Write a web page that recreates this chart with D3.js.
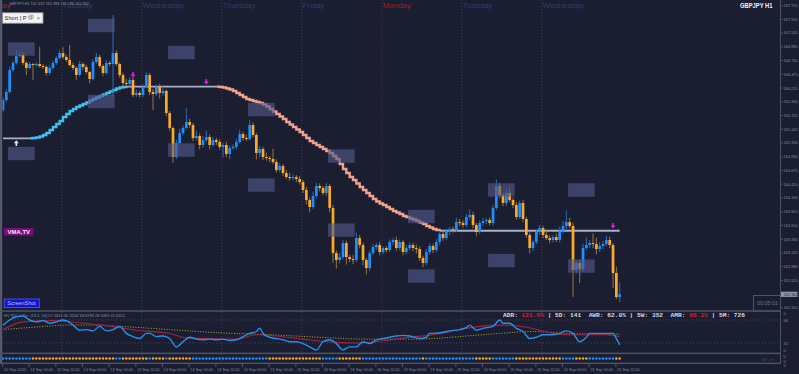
<!DOCTYPE html>
<html>
<head>
<meta charset="utf-8">
<script src="https://cdn.jsdelivr.net/npm/d3@7"></script>
<style>
  html, body { margin: 0; padding: 0; background: #1b1e30; }
  svg { display: block; font-family: "Liberation Sans", Arial, sans-serif; }
</style>
</head>
<body>
<svg id="chart" width="799" height="374"></svg>
<script>
// GBPJPY H1, 12 Sep 2022 06:00 -> 21 Sep 2022 23:00, one entry per hourly bar
const firstOpen = 165.806;
const closes = [
  165.993,166.143,166.554,166.685,166.815,166.834,166.685,166.591,166.666,166.647,
  166.666,166.628,166.610,166.498,166.591,166.685,166.778,166.871,166.797,166.741,
  166.647,166.591,166.460,166.666,166.610,166.516,166.385,166.703,166.797,166.628,
  166.498,166.685,166.666,166.871,166.666,166.460,166.311,166.292,166.367,166.086,
  166.124,166.086,166.236,166.460,166.143,166.105,166.236,166.124,166.161,165.750,
  165.470,164.928,165.189,165.376,165.470,165.582,165.526,165.283,165.320,165.152,
  165.245,165.301,165.152,165.245,165.208,165.115,165.152,164.984,165.096,165.115,
  165.208,165.357,165.283,165.264,165.526,165.339,165.002,165.077,164.928,164.909,
  164.890,164.834,164.685,164.759,164.629,164.554,164.535,164.554,164.517,164.460,
  164.311,164.124,163.993,164.199,164.386,164.348,164.255,164.386,163.974,163.133,
  163.003,163.059,163.320,163.059,163.021,163.003,163.414,163.283,163.003,162.853,
  163.133,163.245,163.283,163.152,163.227,163.190,163.339,163.377,163.227,163.339,
  163.152,163.227,163.283,163.227,163.208,163.040,162.947,163.152,163.264,163.190,
  163.339,163.489,163.414,163.526,163.582,163.563,163.713,163.694,163.657,163.806,
  163.844,163.657,163.526,163.694,163.731,163.750,163.694,163.974,164.386,164.217,
  164.068,164.255,164.124,164.030,163.806,164.068,163.769,163.470,163.227,163.339,
  163.526,163.601,163.470,163.414,163.377,163.432,163.377,163.545,163.638,163.713,
  163.638,162.816,162.947,162.834,163.227,163.283,163.320,163.301,163.208,163.264,
  163.301,163.377,163.283,162.760,162.311,162.362
];
// wick lengths beyond the body, in pips (0.01)
const wickUp = [
  4,5,6,4,11,6,5,3,4,2, 3,32,4,3,5,4,3,6,11,4, 28,4,3,6,3,4,2,5,8,4, 3,6,4,71,5,3,4,8,6,5,
  6,4,5,5,4,6,4,6,8,3, 4,3,6,8,5,26,6,4,10,5, 8,12,5,6,4,5,4,6,4,5, 6,8,4,6,10,5,4,6,4,8,
  4,19,5,6,4,6,8,5,4,6, 4,6,5,8,6,5,4,6,4,6, 5,8,6,5,4,8,10,6,5,4, 5,6,4,6,3,4,5,4,6,5,
  4,6,5,4,6,5,4,6,5,4, 6,4,5,6,4,5,8,6,5,6, 10,6,4,5,6,4,5,6,12,6, 5,8,10,4,6,5,6,4,5,4,
  5,6,4,8,5,4,6,8,10,22, 8,6,5,6,8,14,6,18,12,8, 6,8,6,4,12,22
];
const wickDown = [
  5,4,3,4,3,3,4,13,3,28, 4,3,3,5,4,3,4,3,4,3, 3,4,9,3,5,4,8,3,3,4, 6,3,4,62,4,5,6,4,5,4,
  4,5,4,3,6,30,4,10,5,6, 5,11,4,3,4,3,5,6,4,8, 5,4,8,3,6,5,20,6,10,4, 4,3,5,4,3,4,12,8,6,5,
  6,4,5,4,6,4,5,4,6,5, 6,8,10,4,5,6,4,5,8,18, 16,6,4,14,6,8,4,6,10,12, 6,4,5,6,4,5,4,6,5,4,
  6,4,5,6,8,5,8,4,5,6, 4,6,5,4,6,5,4,6,5,4, 5,6,8,4,5,6,4,5,4,6, 6,5,4,6,5,4,6,5,10,6,
  4,5,6,4,6,5,4,5,4,6, 4,50,6,26,5,4,6,8,10,6, 5,4,6,28,4,9
];
// VMA (variable moving average), one value per bar
const vma = [
  165.277,165.277,165.277,165.277,165.277,165.277,165.277,165.277,165.277,
  165.283,165.292,165.311,165.339,165.376,165.432,165.488,165.544,165.601,165.675,
  165.731,165.787,165.825,165.862,165.890,165.918,165.946,165.984,166.012,166.040,
  166.068,166.096,166.124,166.152,166.180,166.208,166.227,166.236,
  166.242,166.242,166.242,166.242,166.242,166.242,166.242,166.242,166.242,166.242,
  166.242,166.242,166.242,166.242,166.242,166.242,166.242,166.242,166.242,166.242,
  166.242,166.242,166.242,166.242,166.242,166.242,166.242,166.242,
  166.236,166.227,166.208,166.189,166.161,166.124,166.086,166.049,166.012,165.993,
  165.974,165.956,165.937,165.909,165.871,165.825,165.778,165.731,165.685,165.638,
  165.582,165.535,165.488,165.442,165.395,165.339,165.283,165.227,165.189,165.152,
  165.115,165.077,165.040,165.002,164.946,164.890,164.797,164.703,164.629,164.554,
  164.498,164.432,164.367,164.311,164.255,164.199,164.143,164.096,164.059,164.031,
  163.993,163.956,163.918,163.890,163.862,163.825,163.806,163.778,163.759,163.731,
  163.703,163.675,163.638,163.610,163.582,163.563,
  163.550,163.550,163.550,163.550,163.550,163.550,163.550,163.550,163.550,163.550,
  163.550,163.550,163.550,163.550,163.550,163.550,163.550,163.550,163.550,163.550,
  163.550,163.550,163.550,163.550,163.550,163.550,163.550,163.550,163.550,163.550,
  163.550,163.550,163.550,163.550,163.550,163.550,163.550,163.550,163.550,163.550,
  163.550,163.550,163.550,163.550,163.550,163.550,163.550,163.550,163.550,163.550,
  163.550,163.550,163.550,163.550,163.550
];

// days: first bar of each trading day (bar 0 = Mon 12 Sep 06:00)
const dayStartBars = [-6, 18, 42, 66, 90, 114, 138, 162];
const dayNames = ["Monday", "Tuesday", "Wednesday", "Thursday", "Friday", "Monday", "Tuesday", "Wednesday"];
// daily level boxes (centre prices)
const boxStartBars = [2, 26, 50, 74, 98, 122, 146, 170];
const boxHigh = [166.946, 167.385, 166.881, 165.815, 164.946, 163.816, 164.311, 164.311];
const boxLow = [164.993, 165.965, 165.058, 164.404, 163.563, 162.703, 162.993, 162.890];

// signals
const sellBars = [39, 61, 183];
const sellPrices = [166.46, 166.33, 163.64];
const buyBars = [4];
const buyPrices = [165.19];

// TDI readings
const tdiBlueBars = [0,2,4,6,8,10,12,14,16,18,19,21,23,25,27,29,31,33,35,37,39,41,43,44,46,48,50,52,54,56,58,60,62,64,66,68,70,72,74,76,77,78,80,82,84,86,88,90,92,94,96,98,100,102,104,106,108,110,112,114,116,118,120,122,125,127,128,131,134,137,139,140,142,144,147,149,150,152,154,156,158,160,162,165,167,169,171,173,175,176,178,181,183,184,185];
const tdiBlue = [60,68,73,74,68,65,67,63,65,68,67,60,52,53,51,58,51,53,58,47,42,39,47,47,42,43,39,26,34,41,38,37,38,37,38,36,37,42,47,50,55,47,41,39,37,34,34,31,26,21,34,37,31,21,26,26,34,31,37,39,41,43,44,43,39,41,47,48,51,53,56,60,52,55,58,68,63,63,55,50,39,41,45,45,47,51,47,34,41,47,47,47,47,39,29];
const tdiRedBars = [0,6,15,22,30,40,50,55,62,70,76,82,90,100,105,115,120,129,139,143,149,154,161,165,169,175,181,185];
const tdiRed = [53,65,67,64,60,52,47,40,39,38,45,43,38,33,32,36,40,45,55,58,60,59,52,47,45,45,45,42];
const tdiYellowBars = [0,10,20,25,35,50,65,80,95,110,120,129,139,149,159,169,179,185];
const tdiYellow = [53,57,60,60,58,53,48,45,41,38,38,39,43,47,50,47,46,46];
const tdiLevels = [68, 32];

// trend dots: bars where the colour flips (starts blue, then alternates)
const dotRunStarts = [0,9,34,36,44,45,49,50,57,80,96,101,108,126,127,142,147,154,168,172,176,184];

// axes
const priceTicks = [167.755,167.500,167.245,166.985,166.730,166.475,166.215,165.960,165.705,165.445,165.190,164.930,164.675,164.420,164.160,163.905,163.650,163.390,163.135,162.880,162.620,162.110];
const lastPrice = 162.362;
const timeBars = [0,8,16,24,32,40,48,56,64,72,80,88,96,104,112,120,128,136,144,152,160,168,176,184];
const timeLabels = ["12 Sep 2022","12 Sep 14:00","12 Sep 22:00","13 Sep 06:00","13 Sep 14:00","13 Sep 22:00","14 Sep 06:00","14 Sep 14:00","14 Sep 22:00","15 Sep 06:00","15 Sep 14:00","15 Sep 22:00","16 Sep 06:00","16 Sep 14:00","16 Sep 22:00","19 Sep 06:00","19 Sep 14:00","19 Sep 22:00","20 Sep 06:00","20 Sep 14:00","20 Sep 22:00","21 Sep 06:00","21 Sep 14:00","21 Sep 22:00"];
const adrParts = ["ADR: ", "121.5%", " | 5D: 141  AWR: ", "62.0%", " | 5W: 352  AMR: ", "95.3%", " | 5M: 726"];
const adrRed = [false, true, false, false, false, true, false];

(function () {
  "use strict";

  const svg = d3.select("#chart");
  const BG = "#1b1e30";
  const FRAME = "#4d5166";
  const AXIS_TXT = "#878ba0";

  const x = d3.scaleLinear().domain([0, 185]).range([3, 619.7]);
  const y = d3.scaleLinear().domain([167.755, 162.110]).range([5.7, 307.8]);
  const yT = d3.scaleLinear().domain([68, 32]).range([320, 343]);
  const barW = x(1) - x(0);

  const bars = closes.map((c, i) => {
    const o = i === 0 ? firstOpen : closes[i - 1];
    return {
      i, o, c,
      h: Math.max(o, c) + wickUp[i] / 100,
      l: Math.min(o, c) - wickDown[i] / 100,
      up: c >= o
    };
  });

  svg.append("rect").attr("width", 799).attr("height", 374).attr("fill", BG);

  const defs = svg.append("defs");
  defs.append("clipPath").attr("id", "clipMain")
    .append("rect").attr("x", 2.5).attr("y", 0).attr("width", 778).attr("height", 310.5);
  defs.append("clipPath").attr("id", "clipTdi")
    .append("rect").attr("x", 2.5).attr("y", 312).attr("width", 778).attr("height", 41);
  defs.append("clipPath").attr("id", "clipAll")
    .append("rect").attr("x", 0).attr("y", 0).attr("width", 780).attr("height", 363);

  // day separators
  const sepG = svg.append("g").attr("clip-path", "url(#clipAll)");
  sepG.selectAll("line")
    .data(dayStartBars.map((b, k) => ({ b, k })).filter((d) => d.b > 0))
    .join("line")
    .attr("x1", (d) => x(d.b) - barW / 2 + 0.5)
    .attr("x2", (d) => x(d.b) - barW / 2 + 0.5)
    .attr("y1", 0).attr("y2", 363)
    .attr("stroke", (d) => (dayNames[d.k] === "Monday" ? "#6e2230" : "#3b3f59"))
    .attr("stroke-width", 1)
    .attr("stroke-dasharray", "1,2");

  // day names along the top
  sepG.selectAll("text.day")
    .data(dayStartBars.map((b, k) => ({ b, name: dayNames[k] })))
    .join("text")
    .attr("class", "day")
    .attr("x", (d) => x(d.b) - barW / 2 + 1.5)
    .attr("y", 8.3)
    .attr("font-size", 7.8)
    .attr("fill", (d) => (d.name === "Monday" ? "#a51c22" : "#323d6c"))
    .text((d) => d.name);

  const gMain = svg.append("g").attr("clip-path", "url(#clipMain)");

  // VMA line, split into runs of rising / falling / flat
  const state = (i) => {
    const d = vma[i + 1] - vma[i];
    return d > 1e-6 ? "up" : d < -1e-6 ? "down" : "flat";
  };
  const runs = [];
  for (let i = 0; i < vma.length - 1; i++) {
    const s = state(i);
    const last = runs[runs.length - 1];
    if (last && last.s === s) last.to = i + 1;
    else runs.push({ s, from: i, to: i + 1 });
  }
  const vmaColor = { up: "#3fc0ee", down: "#f2a28c", flat: "#a9b1c6" };
  const stepLine = d3.line().x((p) => x(p[0])).y((p) => y(p[1])).curve(d3.curveStepAfter);
  const plainLine = d3.line().x((p) => x(p[0])).y((p) => y(p[1]));
  gMain.append("g").selectAll("path")
    .data(runs)
    .join("path")
    .attr("d", (r) => {
      const pts = d3.range(r.from, r.to + 1).map((i) => [i, vma[i]]);
      return r.s === "flat" ? plainLine(pts) : stepLine(pts);
    })
    .attr("fill", "none")
    .attr("stroke", (r) => vmaColor[r.s])
    .attr("stroke-width", (r) => (r.s === "flat" ? 1.8 : 2.4))
    .attr("stroke-linejoin", "miter");

  // candles
  gMain.append("g").selectAll("line")
    .data(bars)
    .join("line")
    .attr("x1", (d) => x(d.i)).attr("x2", (d) => x(d.i))
    .attr("y1", (d) => y(d.h)).attr("y2", (d) => y(d.l))
    .attr("stroke", (d) => (d.up ? "#2a6db6" : "#9c7733"))
    .attr("stroke-width", 1);
  gMain.append("g").selectAll("rect")
    .data(bars)
    .join("rect")
    .attr("x", (d) => x(d.i) - 1.35)
    .attr("width", 2.7)
    .attr("y", (d) => y(Math.max(d.o, d.c)))
    .attr("height", (d) => Math.max(1, Math.abs(y(d.o) - y(d.c))))
    .attr("fill", (d) => (d.up ? "#1e8fff" : "#fcaa2b"));

  // daily level boxes
  const boxes = [];
  boxStartBars.forEach((b, k) => {
    boxes.push({ b, p: boxHigh[k] });
    boxes.push({ b, p: boxLow[k] });
  });
  gMain.append("g").selectAll("rect")
    .data(boxes)
    .join("rect")
    .attr("x", (d) => x(d.b) - barW / 2)
    .attr("width", barW * 8)
    .attr("y", (d) => y(d.p) - 6.7)
    .attr("height", 13.4)
    .attr("fill", "#53588b")
    .attr("opacity", 0.62);

  // signal arrows
  const downArrow = (cx, cy) =>
    `M${cx - 0.8},${cy - 3} h1.6 v2.6 h1.7 l-2.5,3 l-2.5,-3 h1.7 z`;
  const upArrow = (cx, cy) =>
    `M${cx - 0.8},${cy + 3} h1.6 v-2.6 h1.7 l-2.5,-3 l-2.5,3 h1.7 z`;
  gMain.append("g").selectAll("path")
    .data(sellBars.map((b, k) => ({ b, p: sellPrices[k] })))
    .join("path")
    .attr("d", (d) => downArrow(x(d.b), y(d.p)))
    .attr("fill", "#e21fe6");
  gMain.append("g").selectAll("path")
    .data(buyBars.map((b, k) => ({ b, p: buyPrices[k] })))
    .join("path")
    .attr("d", (d) => upArrow(x(d.b), y(d.p)))
    .attr("fill", "#dff3ff");

  // top-left symbol line
  svg.append("text")
    .attr("x", 9).attr("y", 4.6)
    .attr("font-size", 3.9).attr("fill", "#8d91a6")
    .attr("textLength", 80).attr("lengthAdjust", "spacingAndGlyphs")
    .text("GBPJPY,H1  162.332 162.388 162.286 162.362");

  svg.append("text")
    .attr("x", 740).attr("y", 8.4)
    .attr("font-size", 7.6).attr("font-weight", "bold").attr("fill", "#f2f2f2")
    .attr("textLength", 32.5).attr("lengthAdjust", "spacingAndGlyphs")
    .text("GBPJPY H1");

  // "Short | P" panel
  const sp = svg.append("g");
  sp.append("rect").attr("x", 2.5).attr("y", 12.8).attr("width", 40.5).attr("height", 10.4)
    .attr("fill", "#f3f3f3").attr("stroke", "#9a9ca4").attr("stroke-width", 0.8);
  sp.append("text").attr("x", 4.6).attr("y", 20.3).attr("font-size", 5.4).attr("fill", "#2a2a2a")
    .attr("textLength", 22).attr("lengthAdjust", "spacingAndGlyphs").text("Short | P");
  sp.append("rect").attr("x", 28.8).attr("y", 16.2).attr("width", 3).attr("height", 3)
    .attr("fill", "none").attr("stroke", "#8a8a8a").attr("stroke-width", 0.6);
  sp.append("rect").attr("x", 30).attr("y", 15.2).attr("width", 3).attr("height", 3)
    .attr("fill", "none").attr("stroke", "#8a8a8a").attr("stroke-width", 0.6);
  sp.append("text").attr("x", 36.8).attr("y", 20).attr("font-size", 5.4).attr("fill", "#777").text("×");

  // VMA,TV tag
  svg.append("rect").attr("x", 4).attr("y", 228).attr("width", 29.5).attr("height", 7.6).attr("fill", "#7a0c7d");
  svg.append("text").attr("x", 7.5).attr("y", 234.1).attr("font-size", 5.6).attr("font-weight", "bold")
    .attr("fill", "#f4e9f6").attr("textLength", 22.5).attr("lengthAdjust", "spacingAndGlyphs").text("VMA,TV");

  // ScreenShot button
  svg.append("rect").attr("x", 4.3).attr("y", 299).attr("width", 35).attr("height", 8.6)
    .attr("fill", "#1212cf").attr("stroke", "#4c5cff").attr("stroke-width", 0.8);
  svg.append("text").attr("x", 7.3).attr("y", 305.4).attr("font-size", 5).attr("fill", "#b9c4ff")
    .attr("textLength", 28.5).attr("lengthAdjust", "spacingAndGlyphs").text("ScreenShot");

  // countdown box
  svg.append("rect").attr("x", 753.5).attr("y", 295.5).attr("width", 27).attr("height", 15.5)
    .attr("fill", BG).attr("stroke", "#50546a").attr("stroke-width", 1);
  svg.append("text").attr("x", 757).attr("y", 305).attr("font-size", 5).attr("fill", "#6d7288")
    .attr("textLength", 21).attr("lengthAdjust", "spacingAndGlyphs").text("00:05:01");

  // ---------------- TDI panel ----------------
  svg.append("text").attr("x", 4).attr("y", 316.8).attr("font-size", 3.6).attr("fill", "#8a8ea2")
    .attr("textLength", 121).attr("lengthAdjust", "spacingAndGlyphs")
    .text("H1 TDI of Rsi: (13,2, 14) 57.3413 45.3204 33.6996 28.3469 41.6352");

  const gT = svg.append("g").attr("clip-path", "url(#clipTdi)");
  gT.selectAll("line.lvl")
    .data(tdiLevels)
    .join("line")
    .attr("class", "lvl")
    .attr("x1", 3).attr("x2", 780)
    .attr("y1", (d) => yT(d)).attr("y2", (d) => yT(d))
    .attr("stroke", "#4b4f66").attr("stroke-width", 0.8).attr("stroke-dasharray", "1,2");

  const tLine = d3.line().x((p) => x(p[0])).y((p) => yT(p[1])).curve(d3.curveMonotoneX);
  gT.append("path")
    .attr("d", tLine(tdiYellowBars.map((b, k) => [b, tdiYellow[k]])))
    .attr("fill", "none").attr("stroke", "#b6aa2c").attr("stroke-width", 1)
    .attr("stroke-dasharray", "1,1.6");
  gT.append("path")
    .attr("d", tLine(tdiRedBars.map((b, k) => [b, tdiRed[k]])))
    .attr("fill", "none").attr("stroke", "#a3223f").attr("stroke-width", 1.1);
  gT.append("path")
    .attr("d", tLine(tdiBlueBars.map((b, k) => [b, tdiBlue[k]])))
    .attr("fill", "none").attr("stroke", "#2391f0").attr("stroke-width", 1.4);

  // ADR / AWR / AMR readout
  const adr = svg.append("text")
    .attr("x", 503).attr("y", 317.3)
    .attr("font-family", "'Liberation Mono', 'DejaVu Sans Mono', monospace")
    .attr("font-size", 6.2).attr("font-weight", "bold")
    .attr("xml:space", "preserve")
    .attr("textLength", 242).attr("lengthAdjust", "spacing");
  adr.selectAll("tspan")
    .data(adrParts)
    .join("tspan")
    .attr("fill", (d, k) => (adrRed[k] ? "#d8243a" : "#d9dbe3"))
    .text((d) => d);

  // trend dots
  const dotCol = closes.map((c, i) => {
    const run = d3.bisectRight(dotRunStarts, i) - 1;
    return run % 2 === 0 ? "#1e8fff" : "#fbaa22";
  });
  svg.append("g").selectAll("circle")
    .data(dotCol)
    .join("circle")
    .attr("cx", (d, i) => x(i))
    .attr("cy", 358.5)
    .attr("r", 1.25)
    .attr("fill", (d) => d);
  svg.append("text").attr("x", 762).attr("y", 360.5).attr("font-size", 4.2).attr("fill", "#3f4460").text("AS off");

  // ---------------- frames ----------------
  svg.append("rect").attr("x", 0).attr("y", 0).attr("width", 2.2).attr("height", 364).attr("fill", "#555a6d");
  svg.append("rect").attr("x", 780).attr("y", 0).attr("width", 1).attr("height", 364).attr("fill", FRAME);
  [310.3, 352.6, 362.6].forEach((yy) => {
    svg.append("rect").attr("x", 0).attr("y", yy).attr("width", 781).attr("height", 1.5).attr("fill", FRAME);
  });

  // ---------------- price axis ----------------
  const pAx = svg.append("g");
  pAx.selectAll("line")
    .data(priceTicks)
    .join("line")
    .attr("x1", 781).attr("x2", 783)
    .attr("y1", (d) => y(d)).attr("y2", (d) => y(d))
    .attr("stroke", FRAME);
  pAx.selectAll("text")
    .data(priceTicks)
    .join("text")
    .attr("x", 783.6).attr("y", (d) => y(d) + 1.4)
    .attr("font-size", 3.9).attr("fill", AXIS_TXT)
    .text((d) => d.toFixed(3));
  pAx.append("rect").attr("x", 781).attr("y", y(lastPrice) - 2.6).attr("width", 16.5).attr("height", 5.2)
    .attr("fill", "#9096ad");
  pAx.append("text").attr("x", 783.6).attr("y", y(lastPrice) + 1.4)
    .attr("font-size", 3.9).attr("fill", "#1b1e30").text(lastPrice.toFixed(3));

  const tdiAxis = [[313.5, "0"], [320.7, "68"], [344, "32"], [350.7, "0"], [356.7, "0"], [361.7, "0"], [365.7, "0"]];
  pAx.append("g").selectAll("text")
    .data(tdiAxis)
    .join("text")
    .attr("x", 783.6).attr("y", (d) => d[0] + 1.4)
    .attr("font-size", 3.9).attr("fill", AXIS_TXT)
    .text((d) => d[1]);

  // ---------------- time axis ----------------
  const tAx = svg.append("g");
  tAx.selectAll("line")
    .data(timeBars)
    .join("line")
    .attr("x1", (d) => x(d) - 0.5).attr("x2", (d) => x(d) - 0.5)
    .attr("y1", 364).attr("y2", 367)
    .attr("stroke", "#6b6f84").attr("stroke-width", 0.7);
  tAx.selectAll("text")
    .data(timeLabels)
    .join("text")
    .attr("x", (d, k) => x(timeBars[k]) + 0.8)
    .attr("y", 370.8)
    .attr("font-size", 4).attr("fill", AXIS_TXT)
    .attr("textLength", 22.5).attr("lengthAdjust", "spacingAndGlyphs")
    .text((d) => d);
})();
</script>
</body>
</html>
